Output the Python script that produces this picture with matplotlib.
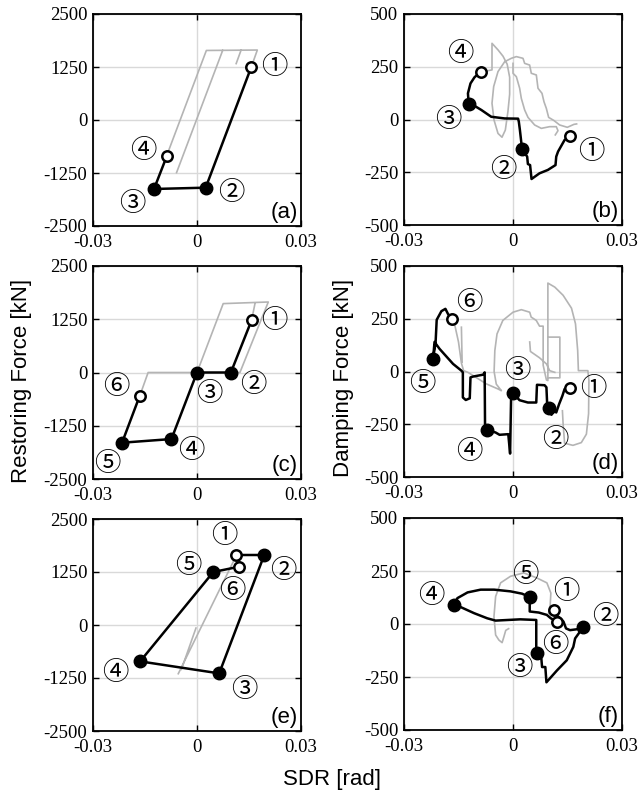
import numpy as np
import matplotlib
matplotlib.use("Agg")
import matplotlib.pyplot as plt

plt.rcParams['axes.unicode_minus'] = False
nan = np.nan

# ---- (a) restoring force, case 1
a_gray_x = [-0.0083, 0.0027, 0.0174, 0.0157, nan, -0.0059, 0.0074, nan, 0.0113, 0.0127]
a_gray_y = [-747, 1640, 1650, 1258, nan, -1242, 1640, nan, 1330, 1645]
a_x = [0.0157, 0.0025, -0.0124, -0.0087]
a_y = [1258, -1596, -1627, -849]
a_pt_x = [0.0157, 0.0025, -0.0124, -0.0087]
a_pt_y = [1258, -1596, -1627, -849]
a_fill = [False, True, True, False]
a_lab_x = [0.0222, 0.0100, -0.0186, -0.0154]
a_lab_y = [1258, -1714, -1965, -708]

# ---- (b) damping force, case 1
b_gray_x = [-0.00706, -0.00578, -0.00578, -0.00413, -0.00275, -0.00160, -0.00092, -0.00092, -0.00138,
            -0.00211, -0.00303, -0.00413, -0.00523, -0.00578, -0.00532, -0.00413, -0.00229, -0.00046,
            0.00092, 0.00275, 0.00321, 0.00458, 0.00504, 0.00642, 0.00688, 0.00798, 0.00853, 0.00917,
            0.00981, 0.01128, 0.01284, 0.01495, 0.01678, 0.01751, nan,
            0.0, 0.0, 0.00092, 0.00183, 0.00229, 0.00321, 0.00413, 0.00596, 0.00779, 0.01009, 0.01192,
            0.01238, 0.01164]
b_gray_y = [231, 235, 361, 330, 300, 262, 200, 120, 40,
            -50, -84, -66, -2, 77, 156, 227, 274, 290,
            298, 290, 266, 258, 219, 211, 148, 124, 84, 53,
            10, -5, -26, -37, -23, -21, nan,
            266, 219, 203, 148, 100, 45, 10, -26, -42, -34, -34,
            -53, -73]
b_x = [0.0156, 0.0142, 0.0124, 0.0119, 0.0117, 0.0096, 0.0073, 0.0051, 0.0047, 0.0041, 0.0039, 0.0025,
       0.0019, 0.0016, 0.0014, -0.0023, -0.0060, -0.0087, -0.0110, -0.0122, -0.0124, -0.0117, -0.0106, -0.0089]
b_y = [-78, -97, -152, -176, -216, -239, -255, -282, -216, -211, -176, -141,
       -50, -10, 4, 5, 13, 45, 69, 75, 124, 171, 200, 227]
b_pt_x = [0.0156, 0.0025, -0.0122, -0.0089]
b_pt_y = [-78, -141, 75, 227]
b_fill = [False, True, True, False]
b_lab_x = [0.0216, -0.0028, -0.0177, -0.0144]
b_lab_y = [-153, -239, -2, 314]

# ---- (c) restoring force, case 2
c_gray_x = [-0.0165, -0.0141, 0.0, 0.00756, 0.02056, 0.01238, 0.00977, nan, 0.01575, 0.01672]
c_gray_y = [-547, 0, 0, 1617, 1655, 0, 0, nan, 1227, 1617]
c_x = [0.01575, 0.00977, 0.0, -0.00737, -0.02162, -0.01652]
c_y = [1227, 0, 0, -1562, -1648, -547]
c_pt_x = c_x
c_pt_y = c_y
c_fill = [False, True, True, True, True, False]
c_lab_x = [0.0222, 0.0162, 0.0035, -0.0016, -0.0260, -0.0233]
c_lab_y = [1227, -273, -492, -1820, -2133, -320]

# ---- (d) damping force, case 2
d_gray_x = [-0.0161, -0.0150, -0.0142, -0.0136, -0.0124, -0.0100, -0.0073, -0.0041, -0.0032, -0.0046,
            -0.0052, -0.0050, -0.0044, -0.0028, 0.0, 0.0023, 0.0046, 0.0050, 0.0064, 0.0073, 0.0083,
            0.0083, 0.0092, 0.0096, 0.0096, 0.0115, 0.0138, 0.0161, 0.0172, 0.0178, 0.0180, 0.0206,
            0.0209, 0.0208, 0.0202, 0.0188, 0.0165, 0.0142, 0.0138, 0.0136, nan,
            0.0096, 0.0129, 0.0129, 0.0096, nan,
            0.0046, 0.0048, 0.0073, 0.0092, 0.0101, 0.0115, nan,
            -0.0142, -0.0140]
d_gray_y = [226, 140, 40, 4, -4, -30, -59, -83, -91, -60,
            0, 99, 178, 242, 281, 293, 281, 258, 242, 215, 215,
            30, -40, -43, 419, 400, 361, 300, 226, 100, 4, 4,
            -43, -200, -297, -337, -350, -340, -250, -186, nan,
            163, 163, -30, -30, nan,
            140, 95, 65, 36, 4, -4, nan,
            210, 44]
d_x = [0.0156, 0.0142, 0.0136, 0.0127, 0.0119, 0.0112, 0.0106, 0.0099, 0.0094, 0.0092, 0.0087, 0.0066,
       0.0064, 0.0041, 0.0018, 0.0000, -0.0005, -0.0008, -0.0013, -0.0037, -0.0048, -0.0071, -0.0077,
       -0.0078, -0.0082, -0.0110, -0.0117, -0.0119, -0.0130, -0.0138, -0.0138, -0.0142, -0.0165, -0.0202,
       -0.0216, -0.0220, -0.0213, -0.0210, -0.0197, -0.0186, -0.0179, -0.0167]
d_y = [-80, -83, -115, -154, -194, -186, -205, -175, -154, -75, -65, -63,
       -147, -147, -136, -102, -100, -389, -297, -300, -289, -277, -250,
       -4, -15, -24, -28, -127, -135, -123, -4, 4, 36, 107,
       140, 60, 140, 245, 286, 297, 273, 247]
d_pt_x = [0.0156, 0.0099, 0.0, -0.0071, -0.0220, -0.0167]
d_pt_y = [-80, -175, -102, -277, 60, 247]
d_fill = [False, True, True, True, True, False]
d_lab_x = [0.0220, 0.0117, 0.0011, -0.0121, -0.0250, -0.0121]
d_lab_y = [-80, -321, 4, -380, -55, 329]

# ---- (e) restoring force, case 3
e_gray_x = [-0.0054, 0.0109, nan, -0.0045, -0.0003]
e_gray_y = [-1149, 1565, nan, -1047, -72]
e_x = [0.0112, 0.0194, 0.0064, -0.0164, 0.0047, 0.0122]
e_y = [1651, 1651, -1141, -858, 1250, 1376]
e_pt_x = e_x
e_pt_y = e_y
e_fill = [False, True, True, True, True, False]
e_lab_x = [0.0080, 0.0249, 0.0135, -0.0235, -0.0026, 0.0103]
e_lab_y = [2100, 1274, -1519, -1126, 1407, 825]

# ---- (f) damping force, case 3
f_gray_x = [-0.0012, -0.0020, -0.0025, -0.0030, -0.00387, -0.00478, -0.00524, -0.00478, -0.00342,
            -0.00069, 0.00296, 0.0066, 0.00933, 0.01042, 0.01024, 0.00979]
f_gray_y = [-22, -30, -60, -88, -76, -52, 35, 130, 194, 225, 241, 217, 194, 146, 90, 51]
f_x = [0.0113, 0.0119, 0.0130, 0.0139, 0.0146, 0.0157, 0.0175, 0.0194, 0.0184, 0.0171, 0.0166, 0.0148,
       0.0121, 0.0092, 0.0089, 0.0080, 0.0078, 0.0067, 0.0064, 0.0064, 0.0020, -0.0048, -0.0071, -0.0107,
       -0.0143, -0.0162, -0.0153, -0.0125, -0.0089, -0.0052, -0.0007, 0.0025, 0.0046, 0.0046, 0.0071,
       0.0093, 0.0104, 0.0121]
f_y = [67, 43, 27, 11, -21, -29, -25, -16, -37, -68, -108, -171,
       -219, -275, -203, -203, -163, -135, -108, 19, 22, 16, 27, 51,
       79, 90, 122, 149, 162, 162, 154, 143, 127, 59, 54,
       43, 27, 11]
f_pt_x = [0.0113, 0.0194, 0.0067, -0.0162, 0.0046, 0.0121]
f_pt_y = [67, -16, -135, 90, 127, 11]
f_fill = [False, True, True, True, True, False]
f_lab_x = [0.0148, 0.0253, 0.0016, -0.0225, 0.0034, 0.0116]
f_lab_y = [154, 35, -203, 133, 233, -95]

circ = ['①', '②', '③', '④', '⑤', '⑥']
xticks = [-0.03, 0, 0.03]
xticklabels = ['-0.03', '0', '0.03']
rf_ticks = [-2500, -1250, 0, 1250, 2500]
df_ticks = [-500, -250, 0, 250, 500]

W, H = 641, 796
fig = plt.figure(figsize=(W / 100, H / 100), dpi=100)

def box(left, top, w, h):
    return [left / W, 1 - (top + h) / H, w / W, h / H]

panels = [
    ('a', box(93, 14, 208, 212), rf_ticks, a_gray_x, a_gray_y, a_x, a_y, a_pt_x, a_pt_y, a_fill, a_lab_x, a_lab_y),
    ('b', box(404, 14, 218, 211), df_ticks, b_gray_x, b_gray_y, b_x, b_y, b_pt_x, b_pt_y, b_fill, b_lab_x, b_lab_y),
    ('c', box(93, 266, 208, 213), rf_ticks, c_gray_x, c_gray_y, c_x, c_y, c_pt_x, c_pt_y, c_fill, c_lab_x, c_lab_y),
    ('d', box(404, 266, 218, 211), df_ticks, d_gray_x, d_gray_y, d_x, d_y, d_pt_x, d_pt_y, d_fill, d_lab_x, d_lab_y),
    ('e', box(93, 519, 208, 212), rf_ticks, e_gray_x, e_gray_y, e_x, e_y, e_pt_x, e_pt_y, e_fill, e_lab_x, e_lab_y),
    ('f', box(404, 518, 218, 212), df_ticks, f_gray_x, f_gray_y, f_x, f_y, f_pt_x, f_pt_y, f_fill, f_lab_x, f_lab_y),
]

for name, pos, yt, gx, gy, bx, by, px, py, fill, lx, ly in panels:
    ax = fig.add_axes(pos)
    ax.set_xlim(-0.03, 0.03)
    ax.set_ylim(yt[0], yt[-1])
    ax.set_xticks(xticks)
    ax.set_xticklabels(xticklabels)
    ax.set_yticks(yt)
    ax.set_yticklabels([str(v) for v in yt])
    for lab in ax.get_xticklabels() + ax.get_yticklabels():
        lab.set_fontfamily('Liberation Serif')
        lab.set_fontsize(13.5)
    ax.tick_params(direction='in', top=True, right=True, length=4, width=1)
    ax.tick_params(axis='x', pad=6)
    ax.tick_params(axis='y', pad=4)
    ax.grid(True, color='#d9d9d9', linewidth=1)
    ax.set_axisbelow(True)
    for s in ax.spines.values():
        s.set_linewidth(1.3)
    ax.plot(gx, gy, color='#b4b4b4', linewidth=1.2, zorder=2)
    ax.plot(bx, by, color='black', linewidth=1.8, zorder=3)
    for x, y, f in zip(px, py, fill):
        if f:
            ax.plot(x, y, 'o', color='black', markersize=9, zorder=4)
        else:
            ax.plot(x, y, 'o', markerfacecolor='white', markeredgecolor='black',
                    markeredgewidth=1.8, markersize=7.5, zorder=4)
    for i, (x, y) in enumerate(zip(lx, ly)):
        ax.text(x, y, circ[i], ha='center', va='center', fontsize=19,
                family=['Noto Sans CJK JP', 'DejaVu Sans'], zorder=5)
    ax.text(0.985, 0.012, '(' + name + ')', transform=ax.transAxes, ha='right', va='bottom',
            fontsize=16, family='Liberation Sans')

fig.text(22 / W, 1 - 381 / H, 'Restoring Force [kN]', rotation=90, ha='center', va='center',
         fontsize=16, family='Liberation Sans')
fig.text(343 / W, 1 - 378 / H, 'Damping Force [kN]', rotation=90, ha='center', va='center',
         fontsize=16, family='Liberation Sans')
fig.text(332 / W, 1 - 779 / H, 'SDR [rad]', ha='center', va='center',
         fontsize=16, family='Liberation Sans')

fig.savefig('out.png', dpi=100)
